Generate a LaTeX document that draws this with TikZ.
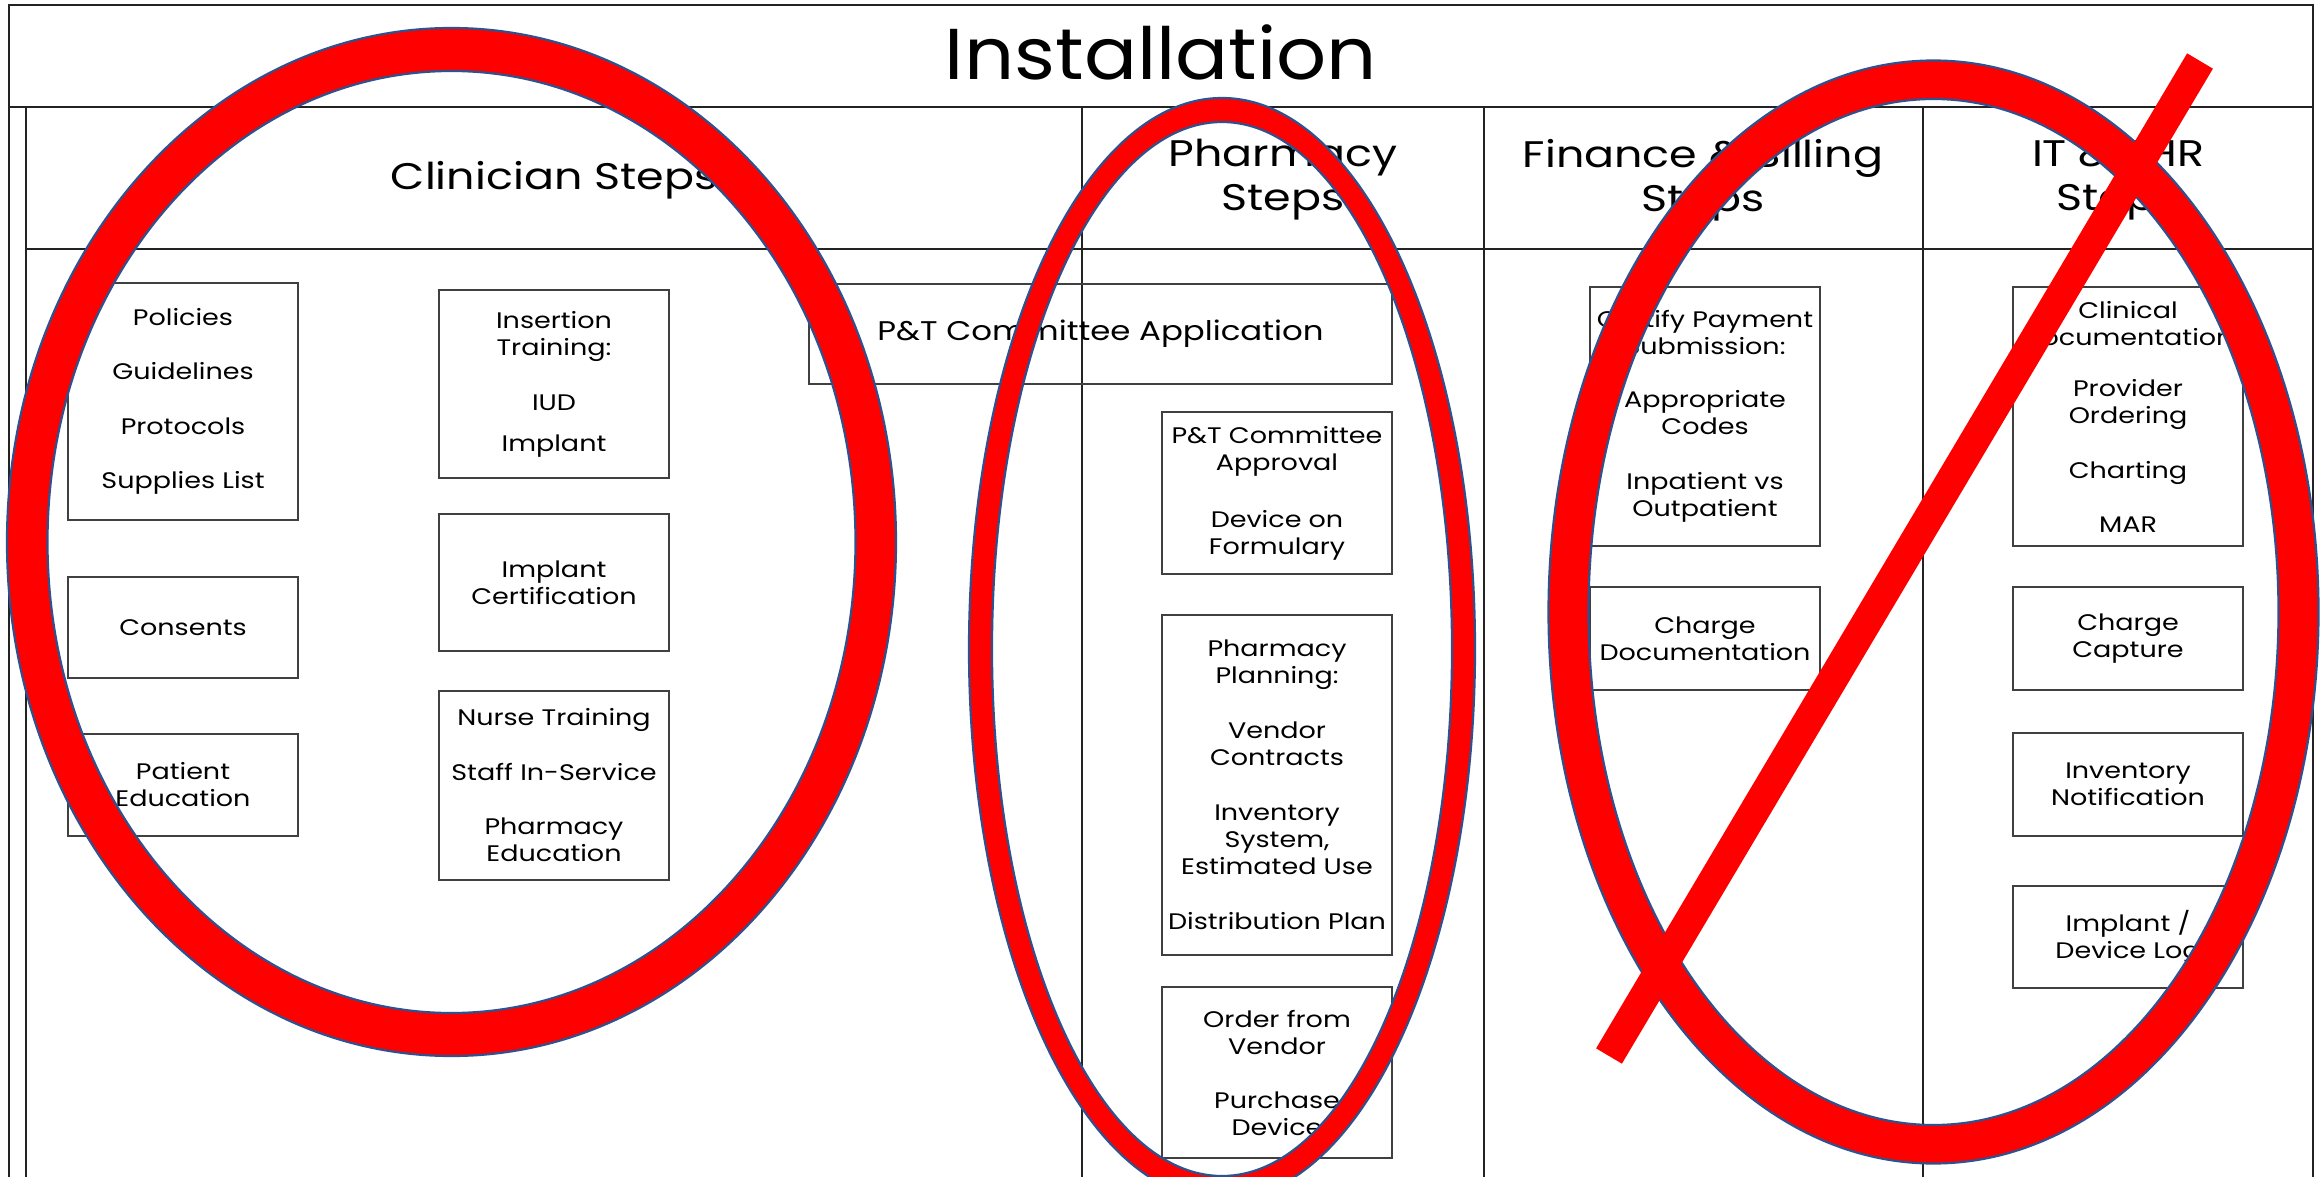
\documentclass[tikz,border=0pt]{standalone}
\usepackage{fontspec}
\setmainfont[FakeStretch=1.2]{Poppins}
\newfontfamily\titlefont[FakeStretch=1.09]{Poppins}
\usepackage{tikz}

\definecolor{ringred}{RGB}{255,0,0}
\definecolor{ringedge}{RGB}{47,82,143}
\definecolor{gridline}{RGB}{35,35,35}

\begin{document}
\begin{tikzpicture}[x=1pt,y=-1pt,
    gridln/.style={draw=gridline,line width=2.5pt},
    head/.style={align=center,inner sep=0pt,font=\fontsize{37}{44}\selectfont},
    stepbox/.style={draw=black!75,line width=2pt,minimum width=230pt,
      align=center,inner sep=0pt,font=\fontsize{22.5}{27}\selectfont},
    ring/.style={fill=ringred,draw=ringedge,line width=2.2pt,even odd rule}]
      \useasboundingbox (0,0) rectangle (2321,1177);
      \clip (0,0) rectangle (2321,1177);
      \fill[white] (0,0) rectangle (2321,1177);
      % Frame and table
      \draw[gridln] (9,1190) -- (9,5) -- (2313,5) -- (2313,1190);
      \draw[gridln] (9,107) -- (2313,107);
      \draw[gridln] (26,1190) -- (26,107);
      \draw[gridln] (26,249) -- (2313,249);
      \foreach \xd in {1082,1484,1923}
        \draw[gridln] (\xd,107) -- (\xd,1190);
      % Title and column heads
      \node[inner sep=0pt,font=\titlefont\fontsize{72}{86}\selectfont] (title) at (1161,52) {Installation};
      \node[head] (clin) at (554,180) {Clinician Steps};
      \node[head] (phar) at (1283,180) {Pharmacy\\Steps};
      \node[head] (fin)  at (1703,180) {Finance \& Billing\\Steps};
      \node[head] (ehr)  at (2118,180) {IT \& EHR\\Steps};
      % Clinician steps
      \node[stepbox,minimum height=237pt] (pol) at (183,401.5)
        {Policies\\[27.5pt]Guidelines\\[27.5pt]Protocols\\[27.5pt]Supplies List};
      \node[stepbox,minimum height=101pt] (cons) at (183,627.5) {Consents};
      \node[stepbox,minimum height=102pt] (ptedu) at (183,785) {Patient\\Education};
      \node[stepbox,minimum height=188pt] (ins) at (554,384)
        {Insertion\\Training:\\[28pt]IUD\\[14pt]Implant};
      \node[stepbox,minimum height=137pt] (cert) at (554,582.5) {Implant\\Certification};
      \node[stepbox,minimum height=189pt] (nurse) at (554,785.5)
        {Nurse Training\\[28pt]Staff In-Service\\[27pt]Pharmacy\\Education};
      % Pharmacy steps
      \node[stepbox,minimum width=583pt,minimum height=100pt,
        font=\fontsize{27}{32}\selectfont] (ptapp) at (1100.5,334)
        {P\&T Committee Application};
      \node[stepbox,minimum height=162pt] (ptok) at (1277,493)
        {P\&T Committee\\Approval\\[30pt]Device on\\Formulary};
      \node[stepbox,minimum height=340pt] (plan) at (1277,785)
        {Pharmacy\\Planning:\\[28pt]Vendor\\Contracts\\[28pt]Inventory\\System,\\Estimated Use\\[28pt]Distribution Plan};
      \node[stepbox,minimum height=171pt] (order) at (1277,1072.5)
        {Order from\\Vendor\\[27pt]Purchase\\Device};
      % Finance & billing steps
      \node[stepbox,minimum height=259pt] (pay) at (1705,416.5)
        {Certify Payment\\Submission:\\[26pt]Appropriate\\Codes\\[28pt]Inpatient vs\\Outpatient};
      \node[stepbox,minimum height=103pt] (chdoc) at (1705,638.5) {Charge\\Documentation};
      % IT & EHR steps
      \node[stepbox,minimum height=259pt] (clindoc) at (2128,416.5)
        {Clinical\\Documentation\\[24pt]Provider\\Ordering\\[28pt]Charting\\[27pt]MAR};
      \node[stepbox,minimum height=103pt] (chcap) at (2128,638.5) {Charge\\Capture};
      \node[stepbox,minimum height=103pt] (invnote) at (2128,784.5) {Inventory\\Notification};
      \node[stepbox,minimum height=102pt] (devlog) at (2128,937) {Implant /\\Device Log};
      % Red rings
      \path[ring] (451.5,542) ellipse [x radius=444.5,y radius=514]
                  (451.5,542) ellipse [x radius=404,y radius=471];
      \path[ring] (1222,649) ellipse [x radius=253,y radius=551]
                  (1222,649) ellipse [x radius=230,y radius=527];
      \path[ring] (1933.5,612) ellipse [x radius=385,y radius=551.5]
                  (1933.5,612) ellipse [x radius=345,y radius=513];
      % Cross-out stroke
      \coordinate (slashlo) at (1609,1056);
      \coordinate (slashhi) at (2200,61);
      \draw[ringred,line width=30pt] (slashlo) -- (slashhi);
\end{tikzpicture}
\end{document}
